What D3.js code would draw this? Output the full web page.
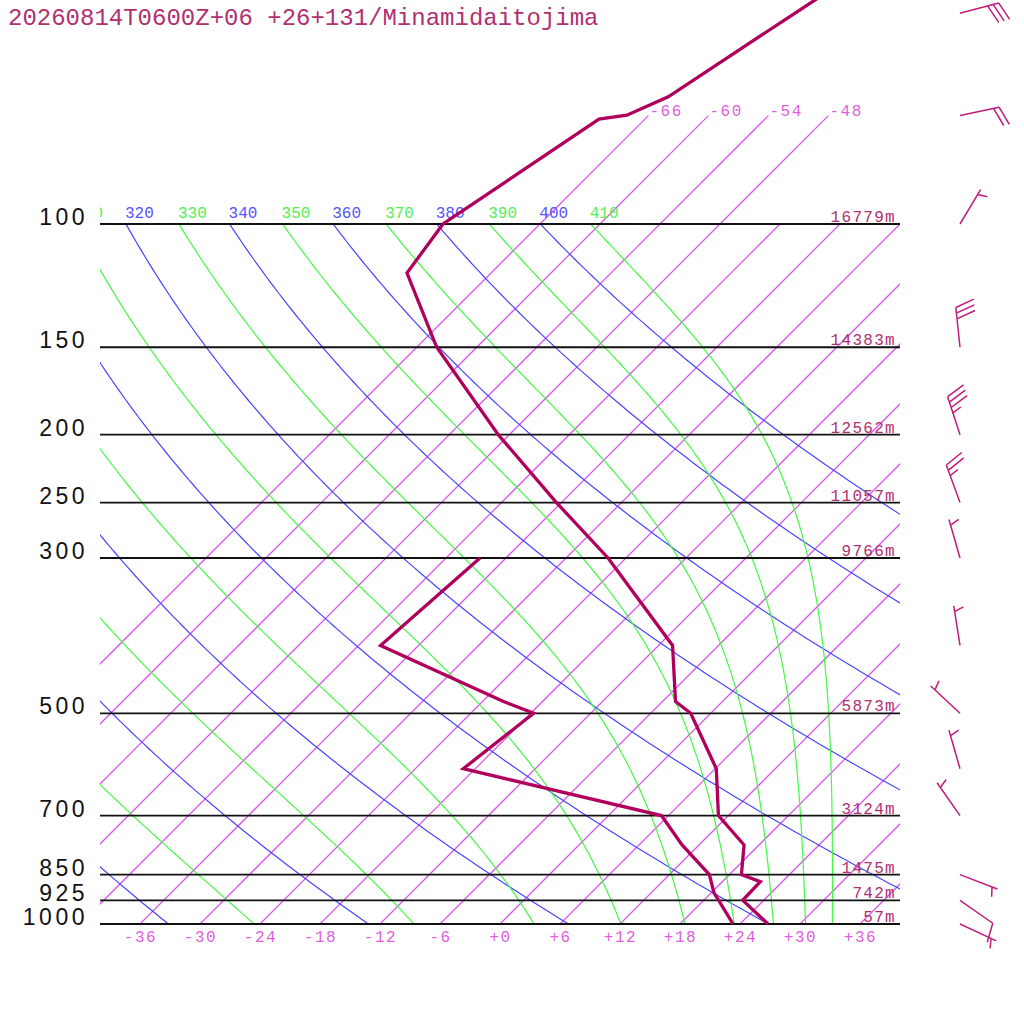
<!DOCTYPE html>
<html>
<head>
<meta charset="utf-8">
<script src="https://cdn.jsdelivr.net/npm/d3@7"></script>
<style>
  body { margin: 0; background: #fff; }
  svg { display: block; }
</style>
</head>
<body>
<div id="chart"></div>
<script>
(function () {
  const WIDTH = 1024;
  const HEIGHT = 1024;

  // 标题
  const title = "20260814T0600Z+06 +26+131/Minamidaitojima";

  // 等压线与高度
  const pressureLevels = [1000, 925, 850, 700, 500, 300, 250, 200, 150, 100];
  const heightLabels = ["57m", "742m", "1475m", "3124m", "5873m", "9766m", "11057m", "12562m", "14383m", "16779m"];

  // 等温线 / 干绝热线 / 湿绝热线
  const isotherms = [-66, -60, -54, -48, -42, -36, -30, -24, -18, -12, -6, 0, 6, 12, 18, 24, 30, 36];
  const topIsotherms = [-66, -60, -54, -48];
  const bottomTempLabels = [-36, -30, -24, -18, -12, -6, 0, 6, 12, 18, 24, 30, 36];
  const dryThetas = [240, 260, 280, 300, 320, 340, 360, 380, 400];
  const moistThetaEs = [250, 270, 290, 310, 330, 350, 370, 390, 410];

  // 温度廓线
  const tempP = [1000, 925, 870, 850, 771, 700, 600, 500, 481, 400, 300, 250, 200, 150, 117.5, 100, 70.8, 69.9, 65.8, 50, 40];
  const tempC = [26.8, 21.9, 21.8, 19.2, 16.5, 11.0, 6.1, -2.0, -4.7, -10.6, -25.8, -36.5, -49.1, -64.0, -74.4, -75.7, -70.6, -68.2, -65.9, -61.6, -58.0];

  // 露点廓线
  const dewP = [1000, 925, 903, 850, 771, 700, 600, 500, 481, 400, 300];
  const dewC = [23.3, 19.5, 18.3, 16.0, 10.3, 5.3, -19.2, -17.7, -21.9, -39.8, -38.6];

  // 风羽
  const windP = [50, 70, 100, 150, 200, 250, 300, 400, 500, 600, 700, 850, 925, 1000];
  const windDir = [75, 78, 31, 354, 342, 340, 344, 351, 313, 344, 325, 111, 125, 115];
  const windKt = [30, 20, 5, 30, 35, 25, 5, 5, 5, 5, 5, 5, 10, 5];

  const X0 = 100, X1 = 900, Y_TOP = 224, Y_BOT = 924;
  const MONO = "'Liberation Mono', 'DejaVu Sans Mono', monospace";
  const ISO_COLOR = "rgb(216,86,234)";
  const DRY_COLOR = "rgb(70,70,255)";
  const MOIST_COLOR = "rgb(68,248,68)";

  const pScale = d3.scaleLog().domain([1000, 100]).range([Y_BOT, Y_TOP]);
  const tScale = d3.scaleLinear().domain([-40, 40]).range([X0, X1]);
  // 45° skew
  const skewX = (t, p) => tScale(t) + (Y_BOT - pScale(p));

  const container = d3.select("#chart");
  const svg = container.append("svg")
    .attr("width", WIDTH)
    .attr("height", HEIGHT);

  svg.append("rect").attr("width", WIDTH).attr("height", HEIGHT).attr("fill", "#fff");

  const defs = svg.append("defs");
  defs.append("clipPath").attr("id", "plot-clip")
    .append("rect").attr("x", X0).attr("y", Y_TOP).attr("width", X1 - X0).attr("height", Y_BOT - Y_TOP);
  defs.append("clipPath").attr("id", "label-clip")
    .append("rect").attr("x", X0).attr("y", 0).attr("width", X1 - X0).attr("height", Y_BOT);

  const line = d3.line().x(d => skewX(d.t, d.p)).y(d => pScale(d.p));

  // sampling grid in pressure
  const sampleP = d3.range(0, 121).map(i => 1000 * Math.pow(0.1, i / 120));

  function dryT(theta, p) {
    return theta * Math.pow(p / 1000, 0.2857) - 273.15;
  }

  function satVap(tc) {
    return 6.112 * Math.exp(17.67 * tc / (tc + 243.5));
  }

  // Bolton (1980) θe of saturated air
  function thetaE(tk, p) {
    const e = satVap(tk - 273.15);
    if (e > p * 0.5) return Infinity;
    const r = 622 * e / (p - e);
    return tk * Math.pow(1000 / p, 0.2854 * (1 - 0.00028 * r)) *
      Math.exp((3.376 / tk - 0.00254) * r * (1 + 0.00081 * r));
  }

  function moistT(te, p) {
    let lo = 120, hi = 340;
    for (let i = 0; i < 60; i++) {
      const mid = (lo + hi) / 2;
      if (thetaE(mid, p) > te) hi = mid; else lo = mid;
    }
    return (lo + hi) / 2 - 273.15;
  }

  const grid = svg.append("g")
    .attr("clip-path", "url(#plot-clip)")
    .attr("fill", "none");

  // 等温线 (1px 的 45° 细线在此渲染器中会变黑，所以略加粗)
  grid.selectAll("path.iso")
    .data(isotherms)
    .join("path")
    .attr("class", "iso")
    .attr("d", t => line([{ t, p: 1000 }, { t, p: 100 }]))
    .attr("stroke", ISO_COLOR)
    .attr("stroke-width", 1.25);

  // 干绝热线
  grid.selectAll("path.dry")
    .data(dryThetas)
    .join("path")
    .attr("class", "dry")
    .attr("d", th => line(sampleP.map(p => ({ t: dryT(th, p), p }))))
    .attr("stroke", DRY_COLOR)
    .attr("stroke-width", 1.2);

  // 湿绝热线
  grid.selectAll("path.moist")
    .data(moistThetaEs)
    .join("path")
    .attr("class", "moist")
    .attr("d", te => line(sampleP.map(p => ({ t: moistT(te, p), p }))))
    .attr("stroke", MOIST_COLOR)
    .attr("stroke-width", 1.2);

  // 100 hPa 以上的等温线
  const topP = 70;
  svg.append("g")
    .attr("fill", "none")
    .selectAll("path")
    .data(topIsotherms)
    .join("path")
    .attr("d", t => line([{ t, p: 100 }, { t, p: topP }]))
    .attr("stroke", ISO_COLOR)
    .attr("stroke-width", 1.25);

  svg.append("g").selectAll("text")
    .data(topIsotherms)
    .join("text")
    .attr("x", t => skewX(t, topP) + 1)
    .attr("y", pScale(topP))
    .attr("fill", "#dd5fdd")
    .attr("font-family", MONO)
    .attr("font-size", 16)
    .attr("letter-spacing", 1.5)
    .text(t => (t >= 0 ? "+" : "") + t);

  // 等压线
  svg.append("g").selectAll("line")
    .data(pressureLevels)
    .join("line")
    .attr("x1", X0).attr("x2", X1)
    .attr("y1", p => pScale(p)).attr("y2", p => pScale(p))
    .attr("stroke", "#111")
    .attr("stroke-width", 1.8);

  // 位温标签 (只保留至少部分可见的)
  const visible = x => x > X0 - 30 && x < X1;
  const labelG = svg.append("g").attr("clip-path", "url(#label-clip)")
    .attr("font-family", MONO).attr("font-size", 16);
  labelG.selectAll("text.dl")
    .data(dryThetas.filter(th => visible(skewX(dryT(th, 100), 100))))
    .join("text")
    .attr("class", "dl")
    .attr("x", th => skewX(dryT(th, 100), 100) - 1)
    .attr("y", Y_TOP - 6)
    .attr("fill", "#5555ff")
    .text(th => th);
  labelG.selectAll("text.ml")
    .data(moistThetaEs.filter(te => visible(skewX(moistT(te, 100), 100))))
    .join("text")
    .attr("class", "ml")
    .attr("x", te => skewX(moistT(te, 100), 100) - 1)
    .attr("y", Y_TOP - 6)
    .attr("fill", "#55ee55")
    .text(te => te);

  // 高度标签
  svg.append("g").selectAll("text")
    .data(pressureLevels)
    .join("text")
    .attr("x", X1 - 4)
    .attr("y", p => pScale(p) - 2)
    .attr("text-anchor", "end")
    .attr("fill", "#b03070")
    .attr("font-family", MONO)
    .attr("font-size", 16)
    .attr("letter-spacing", 1.3)
    .text((p, i) => heightLabels[i]);

  // 温度坐标轴
  const tAxis = d3.axisBottom(tScale)
    .tickValues(bottomTempLabels)
    .tickSize(0)
    .tickPadding(7)
    .tickFormat(d => (d >= 0 ? "+" : "") + d);
  svg.append("g")
    .attr("transform", `translate(0,${Y_BOT})`)
    .call(tAxis)
    .call(g => g.select(".domain").remove())
    .attr("font-family", MONO)
    .attr("font-size", 16)
    .selectAll("text")
    .attr("fill", "#dd5fdd")
    .attr("letter-spacing", 1.5);

  // 气压坐标轴
  const pAxis = d3.axisLeft(pScale)
    .tickValues(pressureLevels)
    .tickSize(0)
    .tickPadding(12)
    .tickFormat(d3.format("d"));
  svg.append("g")
    .attr("transform", `translate(${X0},0)`)
    .call(pAxis)
    .call(g => g.select(".domain").remove())
    .attr("font-family", "'Liberation Sans', Arial, sans-serif")
    .attr("font-size", 23)
    .selectAll("text")
    .attr("dy", "0.02em")
    .attr("fill", "#111")
    .attr("letter-spacing", 3.5);

  // 温度、露点廓线
  const tempData = tempP.map((p, i) => ({ p, t: tempC[i] }));
  const dewData = dewP.map((p, i) => ({ p, t: dewC[i] }));
  [tempData, dewData].forEach(data => {
    svg.append("path")
      .attr("d", line(data))
      .attr("fill", "none")
      .attr("stroke", "#b0005c")
      .attr("stroke-width", 3.3)
      .attr("stroke-linejoin", "miter");
  });

  // 风羽
  const STATION_X = 960, STAFF = 40, GAP = 5.7;
  const barbG = svg.append("g")
    .attr("stroke", "#c01c7c")
    .attr("stroke-width", 1.5)
    .attr("fill", "none");

  windP.forEach((p, i) => {
    const rad = windDir[i] * Math.PI / 180;
    const ux = Math.sin(rad), uy = -Math.cos(rad);
    const px = -uy, py = ux;
    const sx = STATION_X, sy = pScale(p);
    const ex = sx + STAFF * ux, ey = sy + STAFF * uy;
    let path = `M${sx},${sy}L${ex},${ey}`;

    const full = Math.floor(windKt[i] / 10);
    const half = (windKt[i] % 10) >= 5 ? 1 : 0;
    let k = (full === 0 && half) ? 1 : 0;
    for (let f = 0; f < full; f++, k++) {
      const bx = ex - k * GAP * ux, by = ey - k * GAP * uy;
      path += `M${bx},${by}l${18.8 * px + 6.4 * ux},${18.8 * py + 6.4 * uy}`;
    }
    if (half) {
      const bx = ex - k * GAP * ux, by = ey - k * GAP * uy;
      path += `M${bx},${by}l${9.4 * px + 3.2 * ux},${9.4 * py + 3.2 * uy}`;
    }
    barbG.append("path").attr("d", path);
  });

  // 标题
  svg.append("text")
    .attr("x", 8)
    .attr("y", 25)
    .attr("fill", "#b03070")
    .attr("font-family", MONO)
    .attr("font-size", 24)
    .text(title);
})();
</script>
</body>
</html>
